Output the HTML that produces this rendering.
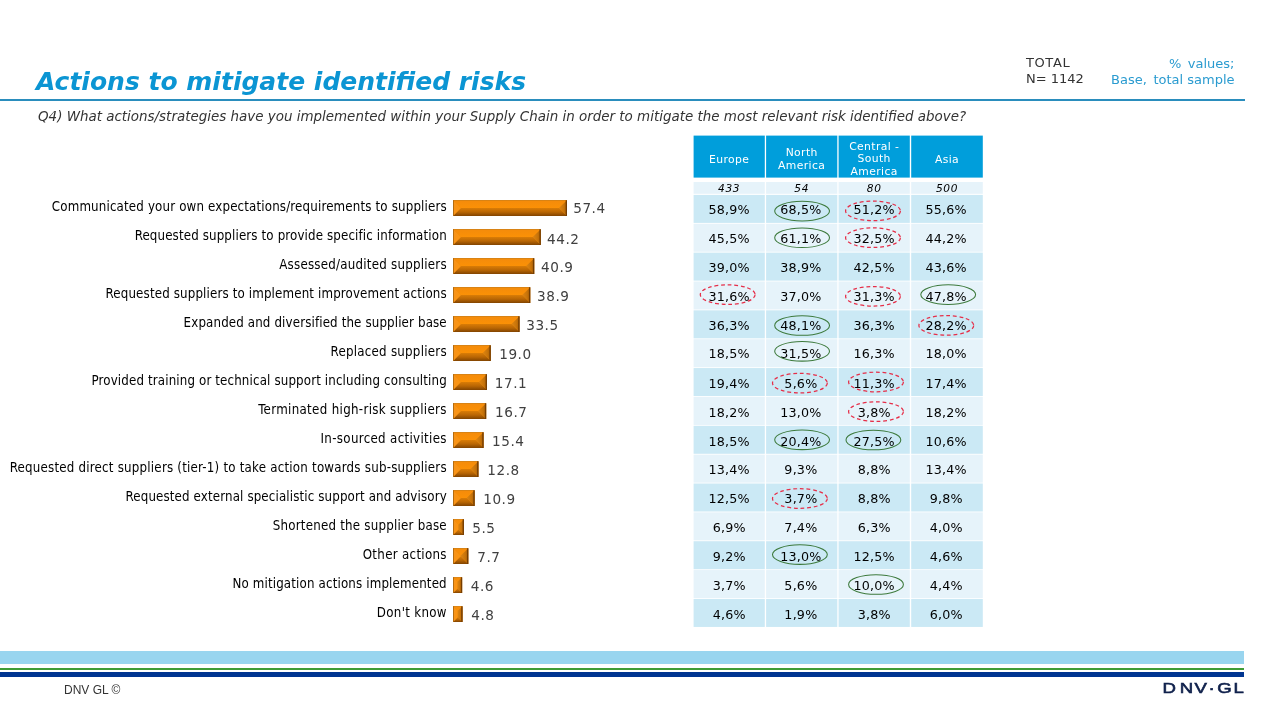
<!DOCTYPE html>
<html lang="en"><head><meta charset="utf-8"><title>Actions to mitigate identified risks</title>
<style>
html,body{margin:0;padding:0;background:#fff;}
body{width:1280px;height:720px;position:relative;overflow:hidden;font-family:"DejaVu Sans","Liberation Sans",sans-serif;color:#000;}
.abs{position:absolute;white-space:nowrap;}
.title{left:36px;top:65.5px;font-size:25px;font-weight:700;font-style:italic;color:#0b95d3;line-height:32px;}
.rule{left:0;top:99px;width:1244.5px;height:2px;background:#2a8dbd;}
.q{left:38px;top:107.7px;font-size:13.44px;font-style:italic;color:#333;line-height:18px;}
.tot{left:1026px;top:55px;font-size:13px;color:#333;line-height:16px;}
.base{right:45.5px;top:56px;font-size:13px;color:#2a9bd0;line-height:15.6px;text-align:right;}
.lbl{right:833.2px;font-family:"DejaVu Sans Condensed","DejaVu Sans","Liberation Sans",sans-serif;font-size:13.2px;letter-spacing:0.15px;line-height:16px;height:16px;color:#000;text-align:right;}
.bar{left:453px;height:16px;box-sizing:border-box;background:#f58b0c;}
.val{font-size:13.6px;letter-spacing:0.55px;line-height:16px;height:16px;color:#404040;}
.th{color:#fff;font-size:10.8px;letter-spacing:0.38px;line-height:12.4px;text-align:center;top:135.6px;height:42px;box-sizing:border-box;display:flex;align-items:center;justify-content:center;white-space:normal;}
.td{text-align:center;font-size:12.7px;letter-spacing:0.2px;color:#000;}
.n{font-style:italic;font-size:10.6px;letter-spacing:0.65px;}
.foot{left:64px;top:683px;font-size:12px;color:#333;font-family:"Liberation Sans",sans-serif;line-height:14px;}
</style></head><body>

<div class="abs title">Actions to mitigate identified risks</div>
<div class="abs rule"></div>
<div class="abs q">Q4) What actions/strategies have you implemented within your Supply Chain in order to mitigate the most relevant risk identified above?</div>
<div class="abs tot"><span style="letter-spacing:0.6px">TOTAL</span><br>N= 1142</div>
<div class="abs base"><span style="word-spacing:2.4px">% values;</span><br><span style="word-spacing:2.4px">Base, </span>total sample</div>
<div class="abs lbl" style="top:198.7px;letter-spacing:0.158px">Communicated your own expectations/requirements to suppliers</div>
<div class="abs val" style="top:199.9px;left:573.2px">57.4</div>
<div class="abs lbl" style="top:227.8px;letter-spacing:0.136px">Requested suppliers to provide specific information</div>
<div class="abs val" style="top:231.2px;left:547.0px">44.2</div>
<div class="abs lbl" style="top:256.8px;letter-spacing:0.232px">Assessed/audited suppliers</div>
<div class="abs val" style="top:259.3px;left:541.0px">40.9</div>
<div class="abs lbl" style="top:285.8px;letter-spacing:0.145px">Requested suppliers to implement improvement actions</div>
<div class="abs val" style="top:288.1px;left:537.0px">38.9</div>
<div class="abs lbl" style="top:314.9px;letter-spacing:0.136px">Expanded and diversified the supplier base</div>
<div class="abs val" style="top:316.8px;left:526.2px">33.5</div>
<div class="abs lbl" style="top:343.9px;letter-spacing:0.244px">Replaced suppliers</div>
<div class="abs val" style="top:345.9px;left:499.2px">19.0</div>
<div class="abs lbl" style="top:373.0px;letter-spacing:0.142px">Provided training or technical support including consulting</div>
<div class="abs val" style="top:375.1px;left:494.8px">17.1</div>
<div class="abs lbl" style="top:402.1px;letter-spacing:0.329px">Terminated high-risk suppliers</div>
<div class="abs val" style="top:403.9px;left:495.0px">16.7</div>
<div class="abs lbl" style="top:431.1px;letter-spacing:0.325px">In-sourced activities</div>
<div class="abs val" style="top:433.1px;left:492.0px">15.4</div>
<div class="abs lbl" style="top:460.1px;letter-spacing:0.216px">Requested direct suppliers (tier-1) to take action towards sub-suppliers</div>
<div class="abs val" style="top:461.8px;left:487.3px">12.8</div>
<div class="abs lbl" style="top:489.2px;letter-spacing:0.135px">Requested external specialistic support and advisory</div>
<div class="abs val" style="top:490.9px;left:483.2px">10.9</div>
<div class="abs lbl" style="top:518.2px;letter-spacing:0.222px">Shortened the supplier base</div>
<div class="abs val" style="top:519.9px;left:472.2px">5.5</div>
<div class="abs lbl" style="top:547.3px;letter-spacing:0.303px">Other actions</div>
<div class="abs val" style="top:549.1px;left:477.2px">7.7</div>
<div class="abs lbl" style="top:576.4px;letter-spacing:0.154px">No mitigation actions implemented</div>
<div class="abs val" style="top:578.4px;left:470.7px">4.6</div>
<div class="abs lbl" style="top:605.4px;letter-spacing:0.305px">Don't know</div>
<div class="abs val" style="top:607.4px;left:471.3px">4.8</div>
<svg class="abs" style="left:0;top:0" width="1280" height="720" viewBox="0 0 1280 720">
<defs><linearGradient id="gb" x1="0" y1="0" x2="0" y2="1"><stop offset="0" stop-color="#d97c06"/><stop offset="0.5" stop-color="#b96604"/><stop offset="1" stop-color="#824400"/></linearGradient><linearGradient id="gr" x1="0" y1="0" x2="1" y2="0"><stop offset="0" stop-color="#de8511"/><stop offset="0.6" stop-color="#c8740a"/><stop offset="1" stop-color="#a85e06"/></linearGradient><linearGradient id="gl" x1="0" y1="0" x2="1" y2="0"><stop offset="0" stop-color="#f8941a"/><stop offset="0.14" stop-color="#f8941a"/><stop offset="1" stop-color="#fa9410"/></linearGradient><linearGradient id="gt" x1="0" y1="0" x2="0" y2="1"><stop offset="0" stop-color="#c87506"/><stop offset="0.16" stop-color="#f58c0a"/><stop offset="1" stop-color="#fb9106"/></linearGradient></defs>
<g>
<rect x="453" y="200.20" width="114.00" height="15.8" fill="#e8850a"/>
<polygon points="453.00,200.20 567.00,200.20 559.10,208.10 460.90,208.10" fill="url(#gt)"/>
<polygon points="453.00,216.00 567.00,216.00 559.10,208.10 460.90,208.10" fill="url(#gb)"/>
<polygon points="453.00,200.20 460.90,208.10 460.90,208.10 453.00,216.00" fill="url(#gl)"/>
<polygon points="567.00,200.20 559.10,208.10 559.10,208.10 567.00,216.00" fill="url(#gr)"/>
<rect x="565.70" y="200.20" width="1.3" height="15.8" fill="#6a3600" fill-opacity="0.85"/>
<rect x="453.00" y="200.20" width="0.9" height="15.8" fill="#9a5c0c" fill-opacity="0.8"/>
</g>
<g>
<rect x="453" y="229.20" width="87.78" height="15.8" fill="#e8850a"/>
<polygon points="453.00,229.20 540.78,229.20 532.88,237.10 460.90,237.10" fill="url(#gt)"/>
<polygon points="453.00,245.00 540.78,245.00 532.88,237.10 460.90,237.10" fill="url(#gb)"/>
<polygon points="453.00,229.20 460.90,237.10 460.90,237.10 453.00,245.00" fill="url(#gl)"/>
<polygon points="540.78,229.20 532.88,237.10 532.88,237.10 540.78,245.00" fill="url(#gr)"/>
<rect x="539.48" y="229.20" width="1.3" height="15.8" fill="#6a3600" fill-opacity="0.85"/>
<rect x="453.00" y="229.20" width="0.9" height="15.8" fill="#9a5c0c" fill-opacity="0.8"/>
</g>
<g>
<rect x="453" y="258.20" width="81.23" height="15.8" fill="#e8850a"/>
<polygon points="453.00,258.20 534.23,258.20 526.33,266.10 460.90,266.10" fill="url(#gt)"/>
<polygon points="453.00,274.00 534.23,274.00 526.33,266.10 460.90,266.10" fill="url(#gb)"/>
<polygon points="453.00,258.20 460.90,266.10 460.90,266.10 453.00,274.00" fill="url(#gl)"/>
<polygon points="534.23,258.20 526.33,266.10 526.33,266.10 534.23,274.00" fill="url(#gr)"/>
<rect x="532.93" y="258.20" width="1.3" height="15.8" fill="#6a3600" fill-opacity="0.85"/>
<rect x="453.00" y="258.20" width="0.9" height="15.8" fill="#9a5c0c" fill-opacity="0.8"/>
</g>
<g>
<rect x="453" y="287.20" width="77.26" height="15.8" fill="#e8850a"/>
<polygon points="453.00,287.20 530.26,287.20 522.36,295.10 460.90,295.10" fill="url(#gt)"/>
<polygon points="453.00,303.00 530.26,303.00 522.36,295.10 460.90,295.10" fill="url(#gb)"/>
<polygon points="453.00,287.20 460.90,295.10 460.90,295.10 453.00,303.00" fill="url(#gl)"/>
<polygon points="530.26,287.20 522.36,295.10 522.36,295.10 530.26,303.00" fill="url(#gr)"/>
<rect x="528.96" y="287.20" width="1.3" height="15.8" fill="#6a3600" fill-opacity="0.85"/>
<rect x="453.00" y="287.20" width="0.9" height="15.8" fill="#9a5c0c" fill-opacity="0.8"/>
</g>
<g>
<rect x="453" y="316.20" width="66.53" height="15.8" fill="#e8850a"/>
<polygon points="453.00,316.20 519.53,316.20 511.63,324.10 460.90,324.10" fill="url(#gt)"/>
<polygon points="453.00,332.00 519.53,332.00 511.63,324.10 460.90,324.10" fill="url(#gb)"/>
<polygon points="453.00,316.20 460.90,324.10 460.90,324.10 453.00,332.00" fill="url(#gl)"/>
<polygon points="519.53,316.20 511.63,324.10 511.63,324.10 519.53,332.00" fill="url(#gr)"/>
<rect x="518.23" y="316.20" width="1.3" height="15.8" fill="#6a3600" fill-opacity="0.85"/>
<rect x="453.00" y="316.20" width="0.9" height="15.8" fill="#9a5c0c" fill-opacity="0.8"/>
</g>
<g>
<rect x="453" y="345.20" width="37.74" height="15.8" fill="#e8850a"/>
<polygon points="453.00,345.20 490.74,345.20 482.84,353.10 460.90,353.10" fill="url(#gt)"/>
<polygon points="453.00,361.00 490.74,361.00 482.84,353.10 460.90,353.10" fill="url(#gb)"/>
<polygon points="453.00,345.20 460.90,353.10 460.90,353.10 453.00,361.00" fill="url(#gl)"/>
<polygon points="490.74,345.20 482.84,353.10 482.84,353.10 490.74,361.00" fill="url(#gr)"/>
<rect x="489.44" y="345.20" width="1.3" height="15.8" fill="#6a3600" fill-opacity="0.85"/>
<rect x="453.00" y="345.20" width="0.9" height="15.8" fill="#9a5c0c" fill-opacity="0.8"/>
</g>
<g>
<rect x="453" y="374.20" width="33.96" height="15.8" fill="#e8850a"/>
<polygon points="453.00,374.20 486.96,374.20 479.06,382.10 460.90,382.10" fill="url(#gt)"/>
<polygon points="453.00,390.00 486.96,390.00 479.06,382.10 460.90,382.10" fill="url(#gb)"/>
<polygon points="453.00,374.20 460.90,382.10 460.90,382.10 453.00,390.00" fill="url(#gl)"/>
<polygon points="486.96,374.20 479.06,382.10 479.06,382.10 486.96,390.00" fill="url(#gr)"/>
<rect x="485.66" y="374.20" width="1.3" height="15.8" fill="#6a3600" fill-opacity="0.85"/>
<rect x="453.00" y="374.20" width="0.9" height="15.8" fill="#9a5c0c" fill-opacity="0.8"/>
</g>
<g>
<rect x="453" y="403.20" width="33.17" height="15.8" fill="#e8850a"/>
<polygon points="453.00,403.20 486.17,403.20 478.27,411.10 460.90,411.10" fill="url(#gt)"/>
<polygon points="453.00,419.00 486.17,419.00 478.27,411.10 460.90,411.10" fill="url(#gb)"/>
<polygon points="453.00,403.20 460.90,411.10 460.90,411.10 453.00,419.00" fill="url(#gl)"/>
<polygon points="486.17,403.20 478.27,411.10 478.27,411.10 486.17,419.00" fill="url(#gr)"/>
<rect x="484.87" y="403.20" width="1.3" height="15.8" fill="#6a3600" fill-opacity="0.85"/>
<rect x="453.00" y="403.20" width="0.9" height="15.8" fill="#9a5c0c" fill-opacity="0.8"/>
</g>
<g>
<rect x="453" y="432.20" width="30.59" height="15.8" fill="#e8850a"/>
<polygon points="453.00,432.20 483.59,432.20 475.69,440.10 460.90,440.10" fill="url(#gt)"/>
<polygon points="453.00,448.00 483.59,448.00 475.69,440.10 460.90,440.10" fill="url(#gb)"/>
<polygon points="453.00,432.20 460.90,440.10 460.90,440.10 453.00,448.00" fill="url(#gl)"/>
<polygon points="483.59,432.20 475.69,440.10 475.69,440.10 483.59,448.00" fill="url(#gr)"/>
<rect x="482.29" y="432.20" width="1.3" height="15.8" fill="#6a3600" fill-opacity="0.85"/>
<rect x="453.00" y="432.20" width="0.9" height="15.8" fill="#9a5c0c" fill-opacity="0.8"/>
</g>
<g>
<rect x="453" y="461.20" width="25.42" height="15.8" fill="#e8850a"/>
<polygon points="453.00,461.20 478.42,461.20 470.52,469.10 460.90,469.10" fill="url(#gt)"/>
<polygon points="453.00,477.00 478.42,477.00 470.52,469.10 460.90,469.10" fill="url(#gb)"/>
<polygon points="453.00,461.20 460.90,469.10 460.90,469.10 453.00,477.00" fill="url(#gl)"/>
<polygon points="478.42,461.20 470.52,469.10 470.52,469.10 478.42,477.00" fill="url(#gr)"/>
<rect x="477.12" y="461.20" width="1.3" height="15.8" fill="#6a3600" fill-opacity="0.85"/>
<rect x="453.00" y="461.20" width="0.9" height="15.8" fill="#9a5c0c" fill-opacity="0.8"/>
</g>
<g>
<rect x="453" y="490.20" width="21.65" height="15.8" fill="#e8850a"/>
<polygon points="453.00,490.20 474.65,490.20 466.75,498.10 460.90,498.10" fill="url(#gt)"/>
<polygon points="453.00,506.00 474.65,506.00 466.75,498.10 460.90,498.10" fill="url(#gb)"/>
<polygon points="453.00,490.20 460.90,498.10 460.90,498.10 453.00,506.00" fill="url(#gl)"/>
<polygon points="474.65,490.20 466.75,498.10 466.75,498.10 474.65,506.00" fill="url(#gr)"/>
<rect x="473.35" y="490.20" width="1.3" height="15.8" fill="#6a3600" fill-opacity="0.85"/>
<rect x="453.00" y="490.20" width="0.9" height="15.8" fill="#9a5c0c" fill-opacity="0.8"/>
</g>
<g>
<rect x="453" y="519.20" width="10.92" height="15.8" fill="#e8850a"/>
<polygon points="453.00,519.20 463.92,519.20 458.46,524.66 458.46,524.66" fill="url(#gt)"/>
<polygon points="453.00,535.00 463.92,535.00 458.46,529.54 458.46,529.54" fill="url(#gb)"/>
<polygon points="453.00,519.20 458.46,524.66 458.46,529.54 453.00,535.00" fill="url(#gl)"/>
<polygon points="463.92,519.20 458.46,524.66 458.46,529.54 463.92,535.00" fill="url(#gr)"/>
<rect x="462.62" y="519.20" width="1.3" height="15.8" fill="#6a3600" fill-opacity="0.85"/>
<rect x="453.00" y="519.20" width="0.9" height="15.8" fill="#9a5c0c" fill-opacity="0.8"/>
</g>
<g>
<rect x="453" y="548.20" width="15.29" height="15.8" fill="#e8850a"/>
<polygon points="453.00,548.20 468.29,548.20 460.65,555.85 460.65,555.85" fill="url(#gt)"/>
<polygon points="453.00,564.00 468.29,564.00 460.65,556.35 460.65,556.35" fill="url(#gb)"/>
<polygon points="453.00,548.20 460.65,555.85 460.65,556.35 453.00,564.00" fill="url(#gl)"/>
<polygon points="468.29,548.20 460.65,555.85 460.65,556.35 468.29,564.00" fill="url(#gr)"/>
<rect x="466.99" y="548.20" width="1.3" height="15.8" fill="#6a3600" fill-opacity="0.85"/>
<rect x="453.00" y="548.20" width="0.9" height="15.8" fill="#9a5c0c" fill-opacity="0.8"/>
</g>
<g>
<rect x="453" y="577.20" width="9.14" height="15.8" fill="#e8850a"/>
<polygon points="453.00,577.20 462.14,577.20 457.57,581.77 457.57,581.77" fill="url(#gt)"/>
<polygon points="453.00,593.00 462.14,593.00 457.57,588.43 457.57,588.43" fill="url(#gb)"/>
<polygon points="453.00,577.20 457.57,581.77 457.57,588.43 453.00,593.00" fill="url(#gl)"/>
<polygon points="462.14,577.20 457.57,581.77 457.57,588.43 462.14,593.00" fill="url(#gr)"/>
<rect x="460.84" y="577.20" width="1.3" height="15.8" fill="#6a3600" fill-opacity="0.85"/>
<rect x="453.00" y="577.20" width="0.9" height="15.8" fill="#9a5c0c" fill-opacity="0.8"/>
</g>
<g>
<rect x="453" y="606.20" width="9.53" height="15.8" fill="#e8850a"/>
<polygon points="453.00,606.20 462.53,606.20 457.77,610.97 457.77,610.97" fill="url(#gt)"/>
<polygon points="453.00,622.00 462.53,622.00 457.77,617.23 457.77,617.23" fill="url(#gb)"/>
<polygon points="453.00,606.20 457.77,610.97 457.77,617.23 453.00,622.00" fill="url(#gl)"/>
<polygon points="462.53,606.20 457.77,610.97 457.77,617.23 462.53,622.00" fill="url(#gr)"/>
<rect x="461.23" y="606.20" width="1.3" height="15.8" fill="#6a3600" fill-opacity="0.85"/>
<rect x="453.00" y="606.20" width="0.9" height="15.8" fill="#9a5c0c" fill-opacity="0.8"/>
</g>
</svg>
<svg class="abs" style="left:0;top:0" width="1280" height="720" viewBox="0 0 1280 720">
<rect x="693.6" y="135.6" width="71.2" height="42" fill="#009edb"/>
<rect x="693.6" y="182" width="71.2" height="11.8" fill="#e6f3fa"/>
<rect x="693.6" y="194.90" width="71.2" height="28.0" fill="#cbe9f5"/>
<rect x="693.6" y="223.76" width="71.2" height="28.0" fill="#e6f3fa"/>
<rect x="693.6" y="252.62" width="71.2" height="28.0" fill="#cbe9f5"/>
<rect x="693.6" y="281.48" width="71.2" height="28.0" fill="#e6f3fa"/>
<rect x="693.6" y="310.34" width="71.2" height="28.0" fill="#cbe9f5"/>
<rect x="693.6" y="339.20" width="71.2" height="28.0" fill="#e6f3fa"/>
<rect x="693.6" y="368.06" width="71.2" height="28.0" fill="#cbe9f5"/>
<rect x="693.6" y="396.92" width="71.2" height="28.0" fill="#e6f3fa"/>
<rect x="693.6" y="425.78" width="71.2" height="28.0" fill="#cbe9f5"/>
<rect x="693.6" y="454.64" width="71.2" height="28.0" fill="#e6f3fa"/>
<rect x="693.6" y="483.50" width="71.2" height="28.0" fill="#cbe9f5"/>
<rect x="693.6" y="512.36" width="71.2" height="28.0" fill="#e6f3fa"/>
<rect x="693.6" y="541.22" width="71.2" height="28.0" fill="#cbe9f5"/>
<rect x="693.6" y="570.08" width="71.2" height="28.0" fill="#e6f3fa"/>
<rect x="693.6" y="598.94" width="71.2" height="28.0" fill="#cbe9f5"/>
<rect x="766.1" y="135.6" width="71.2" height="42" fill="#009edb"/>
<rect x="766.1" y="182" width="71.2" height="11.8" fill="#e6f3fa"/>
<rect x="766.1" y="194.90" width="71.2" height="28.0" fill="#cbe9f5"/>
<rect x="766.1" y="223.76" width="71.2" height="28.0" fill="#e6f3fa"/>
<rect x="766.1" y="252.62" width="71.2" height="28.0" fill="#cbe9f5"/>
<rect x="766.1" y="281.48" width="71.2" height="28.0" fill="#e6f3fa"/>
<rect x="766.1" y="310.34" width="71.2" height="28.0" fill="#cbe9f5"/>
<rect x="766.1" y="339.20" width="71.2" height="28.0" fill="#e6f3fa"/>
<rect x="766.1" y="368.06" width="71.2" height="28.0" fill="#cbe9f5"/>
<rect x="766.1" y="396.92" width="71.2" height="28.0" fill="#e6f3fa"/>
<rect x="766.1" y="425.78" width="71.2" height="28.0" fill="#cbe9f5"/>
<rect x="766.1" y="454.64" width="71.2" height="28.0" fill="#e6f3fa"/>
<rect x="766.1" y="483.50" width="71.2" height="28.0" fill="#cbe9f5"/>
<rect x="766.1" y="512.36" width="71.2" height="28.0" fill="#e6f3fa"/>
<rect x="766.1" y="541.22" width="71.2" height="28.0" fill="#cbe9f5"/>
<rect x="766.1" y="570.08" width="71.2" height="28.0" fill="#e6f3fa"/>
<rect x="766.1" y="598.94" width="71.2" height="28.0" fill="#cbe9f5"/>
<rect x="838.6" y="135.6" width="71.2" height="42" fill="#009edb"/>
<rect x="838.6" y="182" width="71.2" height="11.8" fill="#e6f3fa"/>
<rect x="838.6" y="194.90" width="71.2" height="28.0" fill="#cbe9f5"/>
<rect x="838.6" y="223.76" width="71.2" height="28.0" fill="#e6f3fa"/>
<rect x="838.6" y="252.62" width="71.2" height="28.0" fill="#cbe9f5"/>
<rect x="838.6" y="281.48" width="71.2" height="28.0" fill="#e6f3fa"/>
<rect x="838.6" y="310.34" width="71.2" height="28.0" fill="#cbe9f5"/>
<rect x="838.6" y="339.20" width="71.2" height="28.0" fill="#e6f3fa"/>
<rect x="838.6" y="368.06" width="71.2" height="28.0" fill="#cbe9f5"/>
<rect x="838.6" y="396.92" width="71.2" height="28.0" fill="#e6f3fa"/>
<rect x="838.6" y="425.78" width="71.2" height="28.0" fill="#cbe9f5"/>
<rect x="838.6" y="454.64" width="71.2" height="28.0" fill="#e6f3fa"/>
<rect x="838.6" y="483.50" width="71.2" height="28.0" fill="#cbe9f5"/>
<rect x="838.6" y="512.36" width="71.2" height="28.0" fill="#e6f3fa"/>
<rect x="838.6" y="541.22" width="71.2" height="28.0" fill="#cbe9f5"/>
<rect x="838.6" y="570.08" width="71.2" height="28.0" fill="#e6f3fa"/>
<rect x="838.6" y="598.94" width="71.2" height="28.0" fill="#cbe9f5"/>
<rect x="911.2" y="135.6" width="71.6" height="42" fill="#009edb"/>
<rect x="911.2" y="182" width="71.6" height="11.8" fill="#e6f3fa"/>
<rect x="911.2" y="194.90" width="71.6" height="28.0" fill="#cbe9f5"/>
<rect x="911.2" y="223.76" width="71.6" height="28.0" fill="#e6f3fa"/>
<rect x="911.2" y="252.62" width="71.6" height="28.0" fill="#cbe9f5"/>
<rect x="911.2" y="281.48" width="71.6" height="28.0" fill="#e6f3fa"/>
<rect x="911.2" y="310.34" width="71.6" height="28.0" fill="#cbe9f5"/>
<rect x="911.2" y="339.20" width="71.6" height="28.0" fill="#e6f3fa"/>
<rect x="911.2" y="368.06" width="71.6" height="28.0" fill="#cbe9f5"/>
<rect x="911.2" y="396.92" width="71.6" height="28.0" fill="#e6f3fa"/>
<rect x="911.2" y="425.78" width="71.6" height="28.0" fill="#cbe9f5"/>
<rect x="911.2" y="454.64" width="71.6" height="28.0" fill="#e6f3fa"/>
<rect x="911.2" y="483.50" width="71.6" height="28.0" fill="#cbe9f5"/>
<rect x="911.2" y="512.36" width="71.6" height="28.0" fill="#e6f3fa"/>
<rect x="911.2" y="541.22" width="71.6" height="28.0" fill="#cbe9f5"/>
<rect x="911.2" y="570.08" width="71.6" height="28.0" fill="#e6f3fa"/>
<rect x="911.2" y="598.94" width="71.6" height="28.0" fill="#cbe9f5"/>
</svg>
<div class="abs th" style="left:693.6px;width:71.2px;padding-top:6.4px"><span>Europe</span></div>
<div class="abs td n" style="left:693.6px;width:71.2px;top:182px;height:12px;line-height:12px">433</div>
<div class="abs th" style="left:766.1px;width:71.2px;padding-top:6.0px"><span>North<br>America</span></div>
<div class="abs td n" style="left:766.1px;width:71.2px;top:182px;height:12px;line-height:12px">54</div>
<div class="abs th" style="left:838.6px;width:71.2px;padding-top:6.0px"><span>Central -<br>South<br>America</span></div>
<div class="abs td n" style="left:838.6px;width:71.2px;top:182px;height:12px;line-height:12px">80</div>
<div class="abs th" style="left:911.2px;width:71.6px;padding-top:6.4px"><span>Asia</span></div>
<div class="abs td n" style="left:911.2px;width:71.6px;top:182px;height:12px;line-height:12px">500</div>
<div class="abs td" style="left:693.6px;width:71.2px;top:194.9px;height:27.3px;line-height:30.1px">58,9%</div>
<div class="abs td" style="left:765.3px;width:71.2px;top:194.9px;height:27.3px;line-height:30.1px">68,5%</div>
<div class="abs td" style="left:838.6px;width:71.2px;top:194.9px;height:27.3px;line-height:30.1px">51,2%</div>
<div class="abs td" style="left:910.4px;width:71.6px;top:194.9px;height:27.3px;line-height:30.1px">55,6%</div>
<div class="abs td" style="left:693.6px;width:71.2px;top:223.8px;height:27.3px;line-height:30.1px">45,5%</div>
<div class="abs td" style="left:765.3px;width:71.2px;top:223.8px;height:27.3px;line-height:30.1px">61,1%</div>
<div class="abs td" style="left:838.6px;width:71.2px;top:223.8px;height:27.3px;line-height:30.1px">32,5%</div>
<div class="abs td" style="left:910.4px;width:71.6px;top:223.8px;height:27.3px;line-height:30.1px">44,2%</div>
<div class="abs td" style="left:693.6px;width:71.2px;top:252.6px;height:27.3px;line-height:30.1px">39,0%</div>
<div class="abs td" style="left:765.3px;width:71.2px;top:252.6px;height:27.3px;line-height:30.1px">38,9%</div>
<div class="abs td" style="left:838.6px;width:71.2px;top:252.6px;height:27.3px;line-height:30.1px">42,5%</div>
<div class="abs td" style="left:910.4px;width:71.6px;top:252.6px;height:27.3px;line-height:30.1px">43,6%</div>
<div class="abs td" style="left:693.6px;width:71.2px;top:281.5px;height:27.3px;line-height:30.1px">31,6%</div>
<div class="abs td" style="left:765.3px;width:71.2px;top:281.5px;height:27.3px;line-height:30.1px">37,0%</div>
<div class="abs td" style="left:838.6px;width:71.2px;top:281.5px;height:27.3px;line-height:30.1px">31,3%</div>
<div class="abs td" style="left:910.4px;width:71.6px;top:281.5px;height:27.3px;line-height:30.1px">47,8%</div>
<div class="abs td" style="left:693.6px;width:71.2px;top:311.3px;height:27.3px;line-height:30.1px">36,3%</div>
<div class="abs td" style="left:765.3px;width:71.2px;top:311.3px;height:27.3px;line-height:30.1px">48,1%</div>
<div class="abs td" style="left:838.6px;width:71.2px;top:311.3px;height:27.3px;line-height:30.1px">36,3%</div>
<div class="abs td" style="left:910.4px;width:71.6px;top:311.3px;height:27.3px;line-height:30.1px">28,2%</div>
<div class="abs td" style="left:693.6px;width:71.2px;top:339.2px;height:27.3px;line-height:30.1px">18,5%</div>
<div class="abs td" style="left:765.3px;width:71.2px;top:339.2px;height:27.3px;line-height:30.1px">31,5%</div>
<div class="abs td" style="left:838.6px;width:71.2px;top:339.2px;height:27.3px;line-height:30.1px">16,3%</div>
<div class="abs td" style="left:910.4px;width:71.6px;top:339.2px;height:27.3px;line-height:30.1px">18,0%</div>
<div class="abs td" style="left:693.6px;width:71.2px;top:369.1px;height:27.3px;line-height:30.1px">19,4%</div>
<div class="abs td" style="left:765.3px;width:71.2px;top:369.1px;height:27.3px;line-height:30.1px">5,6%</div>
<div class="abs td" style="left:838.6px;width:71.2px;top:369.1px;height:27.3px;line-height:30.1px">11,3%</div>
<div class="abs td" style="left:910.4px;width:71.6px;top:369.1px;height:27.3px;line-height:30.1px">17,4%</div>
<div class="abs td" style="left:693.6px;width:71.2px;top:397.9px;height:27.3px;line-height:30.1px">18,2%</div>
<div class="abs td" style="left:765.3px;width:71.2px;top:397.9px;height:27.3px;line-height:30.1px">13,0%</div>
<div class="abs td" style="left:838.6px;width:71.2px;top:397.9px;height:27.3px;line-height:30.1px">3,8%</div>
<div class="abs td" style="left:910.4px;width:71.6px;top:397.9px;height:27.3px;line-height:30.1px">18,2%</div>
<div class="abs td" style="left:693.6px;width:71.2px;top:426.8px;height:27.3px;line-height:30.1px">18,5%</div>
<div class="abs td" style="left:765.3px;width:71.2px;top:426.8px;height:27.3px;line-height:30.1px">20,4%</div>
<div class="abs td" style="left:838.6px;width:71.2px;top:426.8px;height:27.3px;line-height:30.1px">27,5%</div>
<div class="abs td" style="left:910.4px;width:71.6px;top:426.8px;height:27.3px;line-height:30.1px">10,6%</div>
<div class="abs td" style="left:693.6px;width:71.2px;top:454.6px;height:27.3px;line-height:30.1px">13,4%</div>
<div class="abs td" style="left:765.3px;width:71.2px;top:454.6px;height:27.3px;line-height:30.1px">9,3%</div>
<div class="abs td" style="left:838.6px;width:71.2px;top:454.6px;height:27.3px;line-height:30.1px">8,8%</div>
<div class="abs td" style="left:910.4px;width:71.6px;top:454.6px;height:27.3px;line-height:30.1px">13,4%</div>
<div class="abs td" style="left:693.6px;width:71.2px;top:483.5px;height:27.3px;line-height:30.1px">12,5%</div>
<div class="abs td" style="left:765.3px;width:71.2px;top:483.5px;height:27.3px;line-height:30.1px">3,7%</div>
<div class="abs td" style="left:838.6px;width:71.2px;top:483.5px;height:27.3px;line-height:30.1px">8,8%</div>
<div class="abs td" style="left:910.4px;width:71.6px;top:483.5px;height:27.3px;line-height:30.1px">9,8%</div>
<div class="abs td" style="left:693.6px;width:71.2px;top:513.4px;height:27.3px;line-height:30.1px">6,9%</div>
<div class="abs td" style="left:765.3px;width:71.2px;top:513.4px;height:27.3px;line-height:30.1px">7,4%</div>
<div class="abs td" style="left:838.6px;width:71.2px;top:513.4px;height:27.3px;line-height:30.1px">6,3%</div>
<div class="abs td" style="left:910.4px;width:71.6px;top:513.4px;height:27.3px;line-height:30.1px">4,0%</div>
<div class="abs td" style="left:693.6px;width:71.2px;top:542.2px;height:27.3px;line-height:30.1px">9,2%</div>
<div class="abs td" style="left:765.3px;width:71.2px;top:542.2px;height:27.3px;line-height:30.1px">13,0%</div>
<div class="abs td" style="left:838.6px;width:71.2px;top:542.2px;height:27.3px;line-height:30.1px">12,5%</div>
<div class="abs td" style="left:910.4px;width:71.6px;top:542.2px;height:27.3px;line-height:30.1px">4,6%</div>
<div class="abs td" style="left:693.6px;width:71.2px;top:571.1px;height:27.3px;line-height:30.1px">3,7%</div>
<div class="abs td" style="left:765.3px;width:71.2px;top:571.1px;height:27.3px;line-height:30.1px">5,6%</div>
<div class="abs td" style="left:838.6px;width:71.2px;top:571.1px;height:27.3px;line-height:30.1px">10,0%</div>
<div class="abs td" style="left:910.4px;width:71.6px;top:571.1px;height:27.3px;line-height:30.1px">4,4%</div>
<div class="abs td" style="left:693.6px;width:71.2px;top:599.9px;height:27.3px;line-height:30.1px">4,6%</div>
<div class="abs td" style="left:765.3px;width:71.2px;top:599.9px;height:27.3px;line-height:30.1px">1,9%</div>
<div class="abs td" style="left:838.6px;width:71.2px;top:599.9px;height:27.3px;line-height:30.1px">3,8%</div>
<div class="abs td" style="left:910.4px;width:71.6px;top:599.9px;height:27.3px;line-height:30.1px">6,0%</div>
<svg class="abs" style="left:0;top:0" width="1280" height="720" viewBox="0 0 1280 720">
<ellipse cx="802.1" cy="211.1" rx="27.4" ry="9.8" fill="none" stroke="#3d7a3c" stroke-width="1.05"/>
<ellipse cx="873.0" cy="210.9" rx="27.4" ry="9.8" fill="none" stroke="#e62e48" stroke-width="1.25" stroke-dasharray="3.8 2.8"/>
<ellipse cx="802.1" cy="237.7" rx="27.4" ry="9.8" fill="none" stroke="#3d7a3c" stroke-width="1.05"/>
<ellipse cx="873.0" cy="237.7" rx="27.4" ry="9.8" fill="none" stroke="#e62e48" stroke-width="1.25" stroke-dasharray="3.8 2.8"/>
<ellipse cx="727.7" cy="294.6" rx="27.4" ry="9.8" fill="none" stroke="#e62e48" stroke-width="1.25" stroke-dasharray="3.8 2.8"/>
<ellipse cx="873.0" cy="296.3" rx="27.4" ry="9.8" fill="none" stroke="#e62e48" stroke-width="1.25" stroke-dasharray="3.8 2.8"/>
<ellipse cx="948.2" cy="294.6" rx="27.4" ry="9.8" fill="none" stroke="#3d7a3c" stroke-width="1.05"/>
<ellipse cx="802.1" cy="325.5" rx="27.4" ry="9.8" fill="none" stroke="#3d7a3c" stroke-width="1.05"/>
<ellipse cx="946.3" cy="325.4" rx="27.4" ry="9.8" fill="none" stroke="#e62e48" stroke-width="1.25" stroke-dasharray="3.8 2.8"/>
<ellipse cx="802.1" cy="351.3" rx="27.4" ry="9.8" fill="none" stroke="#3d7a3c" stroke-width="1.05"/>
<ellipse cx="799.9" cy="383.1" rx="27.4" ry="9.8" fill="none" stroke="#e62e48" stroke-width="1.25" stroke-dasharray="3.8 2.8"/>
<ellipse cx="876.0" cy="382.0" rx="27.4" ry="9.8" fill="none" stroke="#e62e48" stroke-width="1.25" stroke-dasharray="3.8 2.8"/>
<ellipse cx="876.0" cy="411.6" rx="27.4" ry="9.8" fill="none" stroke="#e62e48" stroke-width="1.25" stroke-dasharray="3.8 2.8"/>
<ellipse cx="802.1" cy="439.8" rx="27.4" ry="9.8" fill="none" stroke="#3d7a3c" stroke-width="1.05"/>
<ellipse cx="873.4" cy="440.0" rx="27.4" ry="9.8" fill="none" stroke="#3d7a3c" stroke-width="1.05"/>
<ellipse cx="799.9" cy="498.5" rx="27.4" ry="9.8" fill="none" stroke="#e62e48" stroke-width="1.25" stroke-dasharray="3.8 2.8"/>
<ellipse cx="799.9" cy="554.6" rx="27.4" ry="9.8" fill="none" stroke="#3d7a3c" stroke-width="1.05"/>
<ellipse cx="876.0" cy="584.5" rx="27.4" ry="9.8" fill="none" stroke="#3d7a3c" stroke-width="1.05"/>
</svg>
<div class="abs" style="left:0;top:651px;width:1244px;height:12.7px;background:#99d5ef"></div>
<div class="abs" style="left:0;top:668px;width:1244px;height:2px;background:#3f9c35"></div>
<div class="abs" style="left:0;top:672px;width:1244px;height:4.5px;background:#003591"></div>
<div class="abs foot">DNV GL ©</div>
<svg class="abs" style="left:1150px;top:676px" width="110" height="24" viewBox="0 0 110 24"><text transform="scale(1.3,1)" x="9.69 22.92 34.31 45.00 51.69 64.15" y="17.1" font-family="Liberation Sans, sans-serif" font-size="14.3" fill="#0f204b" stroke="#0f204b" stroke-width="0.6">DNV·GL</text></svg>
</body></html>
